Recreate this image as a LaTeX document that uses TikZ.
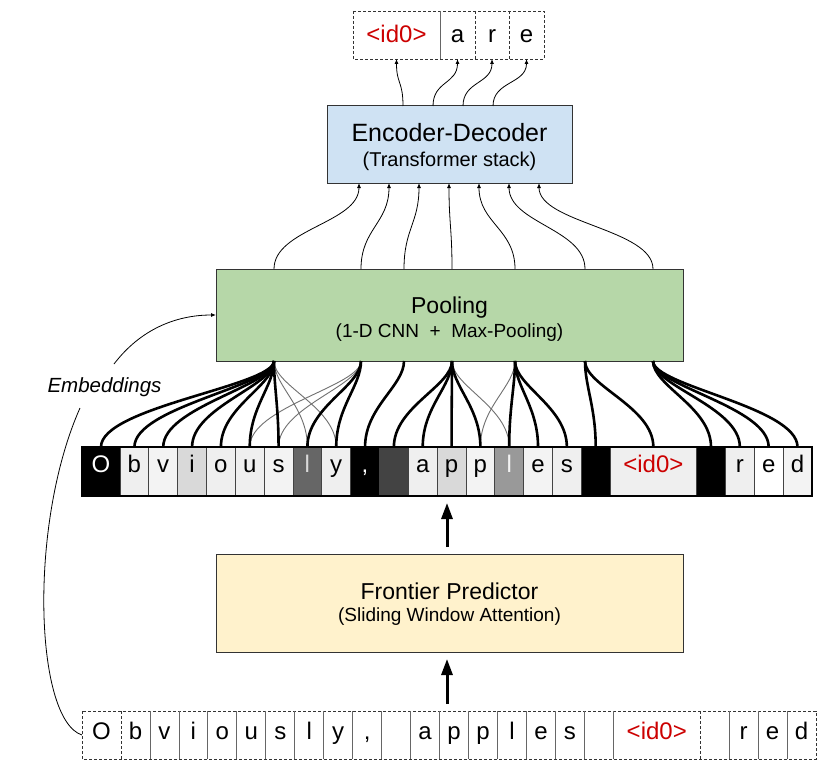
\documentclass[tikz,border=0pt]{standalone}
\usepackage{fontspec}
\setmainfont{Liberation Sans}
\usetikzlibrary{arrows.meta}
\definecolor{encfill}{HTML}{CFE2F3}
\definecolor{poolfill}{HTML}{B6D7A8}
\definecolor{frontfill}{HTML}{FFF2CC}
\definecolor{idred}{HTML}{CC0000}
\definecolor{ga}{HTML}{EFEFEF}
\definecolor{gb}{HTML}{F3F3F3}
\definecolor{gc}{HTML}{D9D9D9}
\definecolor{gd}{HTML}{999999}
\definecolor{ge}{HTML}{666666}
\definecolor{gf}{HTML}{434343}
\definecolor{boxline}{HTML}{333333}
\definecolor{thingray}{HTML}{707070}
\begin{document}
\begin{tikzpicture}[x=1pt,y=-1pt,
  box/.style={draw=boxline, line width=1pt, inner sep=0pt, outer sep=0pt},
  title/.style={anchor=base, inner sep=0pt, font=\fontsize{23}{27}\selectfont},
  subtitle/.style={anchor=base, inner sep=0pt, font=\fontsize{19}{23}\selectfont},
  bytecell/.style={draw=gf, line width=0.7pt, anchor=north west, minimum height=49pt, minimum width=28.83pt, inner sep=0pt, outer sep=0pt, text height=10pt, text depth=9pt, font=\fontsize{24}{28}\selectfont},
  botcell/.style={anchor=north west, minimum height=48pt, minimum width=28.96pt, inner sep=0pt, outer sep=0pt, text height=14pt, text depth=5pt, font=\fontsize{24}{28}\selectfont},
  topcell/.style={anchor=north west, minimum height=48pt, inner sep=0pt, outer sep=0pt, text height=18pt, text depth=2pt, font=\fontsize{24}{28}\selectfont},
  dashline/.style={draw=boxline, line width=0.9pt, dash pattern=on 3pt off 2pt},
  sepline/.style={draw=ge, line width=0.8pt},
  thinarrow/.style={draw=black, line width=0.8pt, -{Latex[length=5pt,width=4pt]}},
  thickc/.style={draw=black, line width=2.6pt},
  thinc/.style={draw=thingray, line width=0.9pt},
  bigarrow/.style={draw=black, line width=3pt, -{Triangle[length=16pt,width=11pt]}, shorten <=7pt, shorten >=7pt}
]
\fill[white] (0,0) rectangle (830,773);
\useasboundingbox (0,0) rectangle (830,773);

% ---------- top output cells ----------
\node[topcell, minimum width=87pt, text=idred] (t0) at (353,11) {<id0>};
\node[topcell, minimum width=35pt] (t1) at (440,11) {a};
\node[topcell, minimum width=34pt] (t2) at (475,11) {r};
\node[topcell, minimum width=35pt] (t3) at (509,11) {e};
\draw[dashline] (t0.north west) rectangle (t3.south east);
\draw[sepline] (t1.north west) -- (t1.south west);
\draw[dashline] (t2.north west) -- (t2.south west);
\draw[dashline] (t3.north west) -- (t3.south west);

% ---------- encoder-decoder ----------
\node[box, fill=encfill, minimum width=245pt, minimum height=77pt] (enc) at (449.5,144.5) {};
\node[title, font=\fontsize{25}{29}\selectfont] (encT) at (449.5,142) {Encoder-Decoder};
\node[subtitle, font=\fontsize{20}{24}\selectfont] (encS) at (449.5,166) {(Transformer stack)};

\coordinate (o1) at (403,106);
\coordinate (o2) at (433,106);
\coordinate (o3) at (463,106);
\coordinate (o4) at (493,106);
\draw[thinarrow] (o1) .. controls +(0,-25) and +(0,25) .. (t0.south);
\draw[thinarrow] (o2) .. controls +(0,-25) and +(0,25) .. (t1.south);
\draw[thinarrow] (o3) .. controls +(0,-25) and +(0,25) .. (t2.south);
\draw[thinarrow] (o4) .. controls +(0,-25) and +(0,25) .. (t3.south);

% ---------- pooling ----------
\node[box, fill=poolfill, minimum width=467pt, minimum height=92pt] (pool) at (449.5,315) {};
\node[title] (poolT) at (449.5,313) {Pooling};
\node[subtitle] (poolS) at (449.5,337) {(1-D CNN~~+~~Max-Pooling)};

% points on pooling top / bottom and encoder bottom
\foreach \n/\x in {A/274,B/361,C/404,D/452,E/515,F/585,G/653}{
  \coordinate (q\n) at (\x,269);
  \coordinate (p\n) at (\x,361);
}
\foreach \n/\x in {1/359,2/389,3/419,4/449,5/479,6/509,7/539}{
  \coordinate (e\n) at (\x,183);
}
\draw[thinarrow] (qA) .. controls +(0,-40) and +(0,40) .. (e1);
\draw[thinarrow] (qB) .. controls +(0,-40) and +(0,40) .. (e2);
\draw[thinarrow] (qC) .. controls +(0,-40) and +(0,40) .. (e3);
\draw[thinarrow] (qD) .. controls +(0,-40) and +(0,40) .. (e4);
\draw[thinarrow] (qE) .. controls +(0,-40) and +(0,40) .. (e5);
\draw[thinarrow] (qF) .. controls +(0,-40) and +(0,40) .. (e6);
\draw[thinarrow] (qG) .. controls +(0,-40) and +(0,40) .. (e7);

% ---------- byte row ----------
\node[bytecell, fill=black, text=white, minimum width=38pt] (b0) at (82,447) {O};
\node[bytecell, fill=ga] (b1) at (120.00,447) {b};
\node[bytecell, fill=gb] (b2) at (148.83,447) {v};
\node[bytecell, fill=gc] (b3) at (177.66,447) {i};
\node[bytecell, fill=ga] (b4) at (206.49,447) {o};
\node[bytecell, fill=ga] (b5) at (235.32,447) {u};
\node[bytecell, fill=gb] (b6) at (264.15,447) {s};
\node[bytecell, fill=ge, text=gc] (b7) at (292.98,447) {l};
\node[bytecell, fill=ga] (b8) at (321.81,447) {y};
\node[bytecell, fill=black, text=white] (b9) at (350.64,447) {,};
\node[bytecell, fill=gf] (b10) at (379.47,447) {};
\node[bytecell, fill=ga] (b11) at (408.30,447) {a};
\node[bytecell, fill=gc] (b12) at (437.13,447) {p};
\node[bytecell, fill=gb] (b13) at (465.96,447) {p};
\node[bytecell, fill=gd, text=gb] (b14) at (494.79,447) {l};
\node[bytecell, fill=gb] (b15) at (523.62,447) {e};
\node[bytecell, fill=ga] (b16) at (552.45,447) {s};
\node[bytecell, fill=black] (b17) at (581.28,447) {};
\node[bytecell, fill=ga, text=idred, minimum width=86.49pt] (b18) at (610.11,447) {<id0>};
\node[bytecell, fill=black] (b19) at (696.60,447) {};
\node[bytecell, fill=ga] (b20) at (725.43,447) {r};
\node[bytecell, fill=white] (b21) at (754.26,447) {e};
\node[bytecell, fill=gb] (b22) at (783.09,447) {d};
\draw[black, line width=1.2pt] (b0.north west) rectangle (b22.south east);

% ---------- pooling -> bytes ----------
\draw[thinc] (pA) .. controls +(0,25) and +(0,-40) .. (b7.north);
\draw[thinc] (pA) .. controls +(0,25) and +(0,-40) .. (b8.north);
\draw[thinc] (pB) .. controls +(0,25) and +(0,-40) .. (b5.north);
\draw[thinc] (pB) .. controls +(0,25) and +(0,-40) .. (b6.north);
\draw[thinc] (pD) .. controls +(0,25) and +(0,-40) .. (b14.north);
\draw[thinc] (pE) .. controls +(0,25) and +(0,-40) .. (b13.north);
\foreach \t in {b0,b1,b2,b3,b4,b5,b6}{
  \draw[thickc] (pA) .. controls +(0,25) and +(0,-40) .. (\t.north);
}
\foreach \t in {b7,b8}{
  \draw[thickc] (pB) .. controls +(0,25) and +(0,-40) .. (\t.north);
}
\draw[thickc] (pC) .. controls +(0,25) and +(0,-40) .. (b9.north);
\foreach \t in {b10,b11,b12,b13}{
  \draw[thickc] (pD) .. controls +(0,25) and +(0,-40) .. (\t.north);
}
\foreach \t in {b14,b15,b16}{
  \draw[thickc] (pE) .. controls +(0,25) and +(0,-40) .. (\t.north);
}
\foreach \t in {b17,b18}{
  \draw[thickc] (pF) .. controls +(0,25) and +(0,-40) .. (\t.north);
}
\foreach \t in {b19,b20,b21,b22}{
  \draw[thickc] (pG) .. controls +(0,25) and +(0,-40) .. (\t.north);
}

% ---------- frontier predictor ----------
\node[box, fill=frontfill, minimum width=467pt, minimum height=98pt] (front) at (449.5,603) {};
\node[title] (frontT) at (449.5,599) {Frontier Predictor};
\node[subtitle] (frontS) at (449.5,621) {(Sliding Window Attention)};

% ---------- bottom row ----------
\node[botcell, minimum width=39pt] (c0) at (82,711) {O};
\node[botcell] (c1) at (121.00,711) {b};
\node[botcell] (c2) at (149.96,711) {v};
\node[botcell] (c3) at (178.92,711) {i};
\node[botcell] (c4) at (207.88,711) {o};
\node[botcell] (c5) at (236.84,711) {u};
\node[botcell] (c6) at (265.80,711) {s};
\node[botcell] (c7) at (294.76,711) {l};
\node[botcell] (c8) at (323.72,711) {y};
\node[botcell] (c9) at (352.68,711) {,};
\node[botcell] (c10) at (381.64,711) {};
\node[botcell] (c11) at (410.60,711) {a};
\node[botcell] (c12) at (439.56,711) {p};
\node[botcell] (c13) at (468.52,711) {p};
\node[botcell] (c14) at (497.48,711) {l};
\node[botcell] (c15) at (526.44,711) {e};
\node[botcell] (c16) at (555.40,711) {s};
\node[botcell] (c17) at (584.36,711) {};
\node[botcell, text=idred, minimum width=86.88pt] (c18) at (613.32,711) {<id0>};
\node[botcell] (c19) at (700.20,711) {};
\node[botcell] (c20) at (729.16,711) {r};
\node[botcell] (c21) at (758.12,711) {e};
\node[botcell] (c22) at (787.08,711) {d};
\draw[dashline] (c0.north west) rectangle (c22.south east);
\draw[dashline] (c1.north west) -- (c1.south west);
\foreach \c in {c2,c3,c4,c5,c6,c7,c8,c9,c10,c11,c12,c13,c14,c15,c16,c17,c18,c20,c21,c22}{
  \draw[sepline] (\c.north west) -- (\c.south west);
}
\draw[dashline] (c19.north west) -- (c19.south west);

% ---------- big arrows ----------
\draw[bigarrow] ([xshift=-2.5pt]front.north) -- ([xshift=-2.5pt]front.north |- b12.south);
\draw[bigarrow] ([xshift=-2.5pt]front.south |- c12.north) -- ([xshift=-2.5pt]front.south);

% ---------- embeddings ----------
\node[anchor=base, inner sep=0pt, font=\fontsize{20.5}{24}\selectfont\itshape] (emb) at (104.5,392) {Embeddings};
\coordinate (embLo) at (80,408);
\coordinate (embHi) at (114,364);
\draw[black, line width=0.8pt] (c0.west) .. controls (35,720) and (28,525) .. (embLo);
\draw[thinarrow] (embHi) .. controls (140,330) and (175,315) .. (pool.west);
\end{tikzpicture}
\end{document}
